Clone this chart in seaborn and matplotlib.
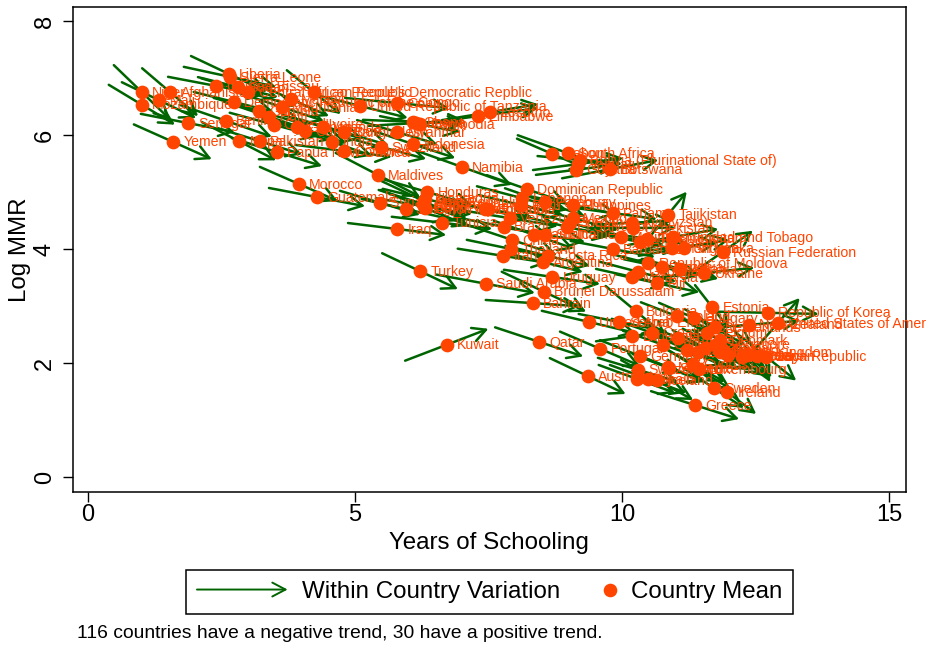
import matplotlib
matplotlib.use("Agg")
import matplotlib.pyplot as plt
import pandas as pd
import seaborn as sns
from matplotlib.legend_handler import HandlerBase
from matplotlib.lines import Line2D
from matplotlib.patches import FancyArrowPatch

countries = ["Liberia","Sierra Leone","Guinea-Bissau","Sudan","Central African Republic","Niger","Afghanistan","Mali","Mozambique","Senegal",
"Yemen","Nepal","Pakistan","Papua New Guinea","Benin","Democratic Republic of the Congo","Gambia","Haiti","Cote d'Ivoire","Mauritania",
"Malawi","Lao People's Democratic Repblic","Guinea","Cameroon","Uganda","Bangladesh","India","Comoros","United Republic of Tanzania","Congo",
"Zimbabwe","Lesotho","Ghana","Kenya","Cambodia","Myanmar","Swaziland","Indonesia","Namibia","Maldives",
"Morocco","Guatemala","Syrian Arab Republic","Solomon Islands","Iraq","Honduras","Nicaragua","Algeria","Egypt","Oman",
"Cape Verde","Tunisia","Turkey","Saudi Arabia","Brunei Darussalam","Bahrain","Kuwait","Qatar","Portugal","Austria",
"United Arab Emirates","Serbia","Bulgaria","Lithuania","Croatia","Chile","Germany","Switzerland","Slovenia","Italy",
"Spain","Iceland","Greece","Sweden","Ireland","Estonia","Republic of Korea","United States of America","New Zealand","Czech Republic",
"Japan","Denmark","Hungary","Poland","Netherlands","Belgium","France","Canada","Latvia","Slovakia",
"Finland","Australia","Norway","Israel","Malta","Cyprus","Luxembourg","United Kingdom","Singapore","Dominican Republic",
"Lebanon","Peru","Paraguay","Philippines","Ecuador","Colombia","Venezuela","Brazil","China","Thailand",
"Iran","Jamaica","Suriname","Mexico","Jordan","El Salvador","Panama","Mauritius","Barbados","Costa Rica",
"Argentina","Uruguay","Malaysia","Georgia","Fiji","Republic of Moldova","Armenia","Albania","Ukraine","Tajikistan",
"Kyrgyzstan","Uzbekistan","Azerbaijan","Turkmenistan","Trinidad and Tobago","Mongolia","Sri Lanka","Russian Federation","South Africa","Gabon",
"Bolivia (Plurinational State of)","Guyana","Botswana","Vanuatu"]

mean_schooling = [2.64,2.66,2.40,2.81,3.00,1.01,1.54,1.33,1.01,1.87,
1.59,2.83,3.22,3.54,2.58,2.73,3.20,3.39,3.48,3.63,
3.80,4.23,3.91,4.06,4.40,4.79,4.57,4.79,5.09,5.79,
7.30,7.53,6.09,6.15,6.22,5.79,5.49,6.09,7.00,5.43,
3.95,4.29,5.47,5.95,5.79,6.35,6.31,6.27,6.31,6.29,
6.29,6.63,6.22,7.45,8.54,8.33,6.72,8.45,9.59,9.36,
9.38,9.94,10.26,10.19,10.56,10.77,10.34,10.30,10.88,10.28,
10.49,10.66,11.37,11.72,11.97,11.69,12.73,12.92,12.38,12.53,
12.70,11.84,11.35,11.03,11.74,11.59,11.05,11.22,11.42,11.55,
11.89,11.98,12.25,12.36,10.86,11.33,11.44,11.84,11.74,8.22,
8.13,8.11,8.56,9.08,7.49,7.43,7.90,7.79,7.94,7.92,
7.77,8.35,8.56,9.08,9.03,8.97,9.83,9.98,9.83,8.61,
8.52,8.69,10.19,10.30,10.66,10.49,10.75,11.09,11.54,10.86,
10.19,10.21,10.34,10.47,10.96,10.94,11.16,11.89,8.99,8.69,
9.21,9.14,9.78,9.18]

mean_log_mmr = [7.07,7.02,6.86,6.84,6.75,6.75,6.75,6.61,6.53,6.21,
5.88,5.89,5.89,5.70,6.25,6.58,6.42,6.32,6.18,6.49,
6.63,6.75,6.14,6.07,6.14,6.05,5.88,5.72,6.51,6.56,
6.33,6.40,6.23,6.21,6.19,6.05,5.79,5.84,5.44,5.30,
5.14,4.91,4.81,4.70,4.35,5.00,4.88,4.79,4.72,4.84,
4.75,4.46,3.61,3.39,3.25,3.05,2.32,2.37,2.25,1.77,
2.72,2.72,2.91,2.47,2.53,2.32,2.12,1.88,1.91,1.72,
1.72,1.70,1.26,1.56,1.49,2.98,2.88,2.70,2.67,2.12,
2.11,2.40,2.79,2.82,2.63,2.53,2.44,2.23,2.19,2.26,
2.23,2.14,2.11,2.14,1.93,1.98,1.89,2.19,2.32,5.05,
4.89,4.77,4.82,4.77,4.70,4.70,4.54,4.39,4.16,4.00,
3.88,4.25,4.25,4.54,4.46,4.39,4.63,4.21,4.00,3.88,
3.77,3.51,3.51,3.60,3.40,3.75,3.68,3.65,3.58,4.60,
4.46,4.37,4.12,4.18,4.21,4.02,4.02,3.95,5.68,5.67,
5.56,5.39,5.40,5.49]

change_schooling = [1.42,1.73,1.80,1.50,1.76,1.05,1.05,1.39,1.24,1.76,
1.46,1.39,1.58,1.69,1.73,1.50,1.69,1.69,1.65,1.58,
1.43,1.01,1.50,1.58,1.50,1.69,1.50,1.80,1.80,1.95,
2.25,1.80,1.88,1.80,1.50,1.50,1.69,1.58,1.88,1.58,
1.46,1.80,1.50,1.65,1.84,1.69,1.58,1.65,1.65,1.58,
1.80,1.88,1.42,1.84,1.58,1.76,1.56,1.65,1.50,1.42,
1.76,1.50,1.13,1.35,1.50,1.50,1.50,1.50,1.35,1.43,
1.43,1.35,1.65,1.13,1.09,0.64,1.91,0.82,1.91,0.49,
1.13,1.31,1.31,1.35,1.13,1.20,1.43,1.35,1.35,1.20,
1.13,1.31,1.05,0.90,1.35,1.20,1.20,1.13,1.20,1.50,
1.69,1.58,1.50,1.65,1.65,1.65,1.80,1.73,1.69,1.65,
1.69,1.50,1.50,1.69,1.58,1.58,1.65,1.61,1.58,1.58,
1.50,1.80,1.35,1.43,1.58,1.50,1.43,1.43,1.88,0.71,
1.50,1.58,1.50,1.58,1.69,1.69,1.69,1.13,1.88,1.31,
1.58,1.50,1.80,1.69]

change_log_mmr = [-0.63,-0.35,-0.32,-0.35,-0.49,-0.95,-0.84,-0.63,-0.70,-0.32,
-0.61,-0.67,-0.46,-0.49,-0.56,-0.35,-0.46,-0.53,-0.42,-0.49,
-0.60,-0.77,-0.42,-0.42,-0.42,-0.46,-0.49,-0.21,-0.42,-0.18,
0.28,0.28,-0.07,0.10,-0.28,-0.42,-0.42,-0.49,-0.63,-0.77,
-0.60,-0.32,-0.42,-0.35,-0.21,-0.46,-0.35,-0.49,-0.63,-0.70,
-0.28,-0.21,-0.63,-0.32,-0.70,-0.11,0.56,-0.51,-0.60,-0.63,
-0.39,-0.28,-0.88,0.18,-0.49,-0.49,-0.56,-0.42,-0.49,-0.49,
-0.49,-0.70,-0.49,-0.70,-0.77,-0.77,-0.04,0.88,0.14,-0.91,
-0.84,-0.70,-0.53,-0.49,-0.63,-0.63,-0.56,-0.56,-0.56,-0.63,
-0.70,-0.63,-0.70,-0.77,-0.49,-0.63,-0.70,-0.63,-0.56,-0.49,
-0.42,-0.35,-0.49,-0.32,-0.28,-0.35,-0.28,-0.32,-0.53,-0.32,
-0.25,-0.49,-0.25,-0.42,-0.42,-0.35,-0.21,-0.28,-0.28,-0.35,
-0.35,-0.25,-0.28,-0.35,-0.32,-0.35,-0.28,-0.35,0.18,0.81,
0.07,0.00,-0.28,-0.21,0.28,0.18,0.28,0.74,-0.63,-0.53,
-0.14,0.18,0.32,0.21]

x_ticks = [0, 5, 10, 15]
y_ticks = [0, 2, 4, 6, 8]

df = pd.DataFrame({"country": countries, "schooling": mean_schooling, "log_mmr": mean_log_mmr,
                   "d_school": change_schooling, "d_mmr": change_log_mmr})

sns.set_theme(style="ticks")
plt.rcParams["font.family"] = ["Liberation Sans", "DejaVu Sans"]

GREEN = "#006400"
ORANGE = "#ff4500"
ARROW = "->,head_length=0.95,head_width=0.5"

fig = plt.figure(figsize=(9.28, 6.45), dpi=100)
ax = fig.add_axes([73 / 928, (645 - 491.5) / 645, (906 - 73) / 928, (491.5 - 7) / 645])

for r in df.itertuples():
    ax.annotate("", xy=(r.schooling + r.d_school / 2, r.log_mmr + r.d_mmr / 2),
                xytext=(r.schooling - r.d_school / 2, r.log_mmr - r.d_mmr / 2),
                arrowprops=dict(arrowstyle=ARROW, color=GREEN, lw=1.8, shrinkA=0, shrinkB=0,
                                mutation_scale=10), zorder=2)

sns.scatterplot(data=df, x="schooling", y="log_mmr", color=ORANGE, s=98, linewidth=0,
                ax=ax, zorder=3, legend=False)

for r in df.itertuples():
    ax.annotate(r.country, (r.schooling, r.log_mmr), xytext=(7.5, -0.5), textcoords="offset points",
                color=ORANGE, fontsize=10.2, ha="left", va="center", zorder=4, annotation_clip=False)

ax.set_xlim(-0.28, 15.32)
ax.set_ylim(-0.255, 8.245)
ax.set_xticks(x_ticks)
ax.set_yticks(y_ticks)
ax.tick_params(axis="x", length=7, width=1, color="black", labelsize=17, labelcolor="black", pad=2)
ax.tick_params(axis="y", length=7, width=1, color="black", labelsize=17, labelcolor="black", pad=5.5)
for lab in ax.get_yticklabels():
    lab.set_rotation(90)
    lab.set_va("center")
ax.set_xlabel("Years of Schooling", fontsize=17.4, color="black", va="center")
ax.set_ylabel("Log MMR", fontsize=17.4, color="black", va="center")
ax.xaxis.set_label_coords((489 - 73) / 833, (491.5 - 543) / 484.5)
ax.yaxis.set_label_coords((20 - 73) / 833, (491.5 - 250) / 484.5)
for s in ax.spines.values():
    s.set_visible(True)
    s.set_linewidth(1.1)
    s.set_color("black")


class ArrowHandler(HandlerBase):
    def create_artists(self, legend, orig, xd, yd, w, h, fs, trans):
        y = h / 2 - yd
        a = FancyArrowPatch((-xd, y), (-xd + w, y), arrowstyle=ARROW, color=GREEN, lw=1.4,
                            mutation_scale=10, shrinkA=0, shrinkB=0, transform=trans)
        return [a]


class DotHandler(HandlerBase):
    def create_artists(self, legend, orig, xd, yd, w, h, fs, trans):
        return [Line2D([w - 5], [h / 2 - yd], marker="o", color=ORANGE, ms=9.8, mew=0, ls="", transform=trans)]


arrow_key = Line2D([], [])
dot_key = Line2D([], [], marker="o")
leg = fig.legend([arrow_key, dot_key], ["Within Country Variation", "Country Mean"],
                 handler_map={arrow_key: ArrowHandler(), dot_key: DotHandler()},
                 loc="center", bbox_to_anchor=(489.5 / 928, (645 - 592) / 645), ncol=2,
                 fontsize=17.4, frameon=True, fancybox=False, framealpha=1, edgecolor="black",
                 handlelength=3.75, handletextpad=0.58, columnspacing=-1.4, borderpad=0.45, borderaxespad=0)
leg.get_frame().set_linewidth(1.1)
for t in leg.get_texts():
    t.set_color("black")

fig.text(77 / 928, (645 - 634) / 645, "116 countries have a negative trend, 30 have a positive trend.",
         fontsize=13.9, color="black", ha="left", va="center")

fig.savefig("out.png", dpi=100)
